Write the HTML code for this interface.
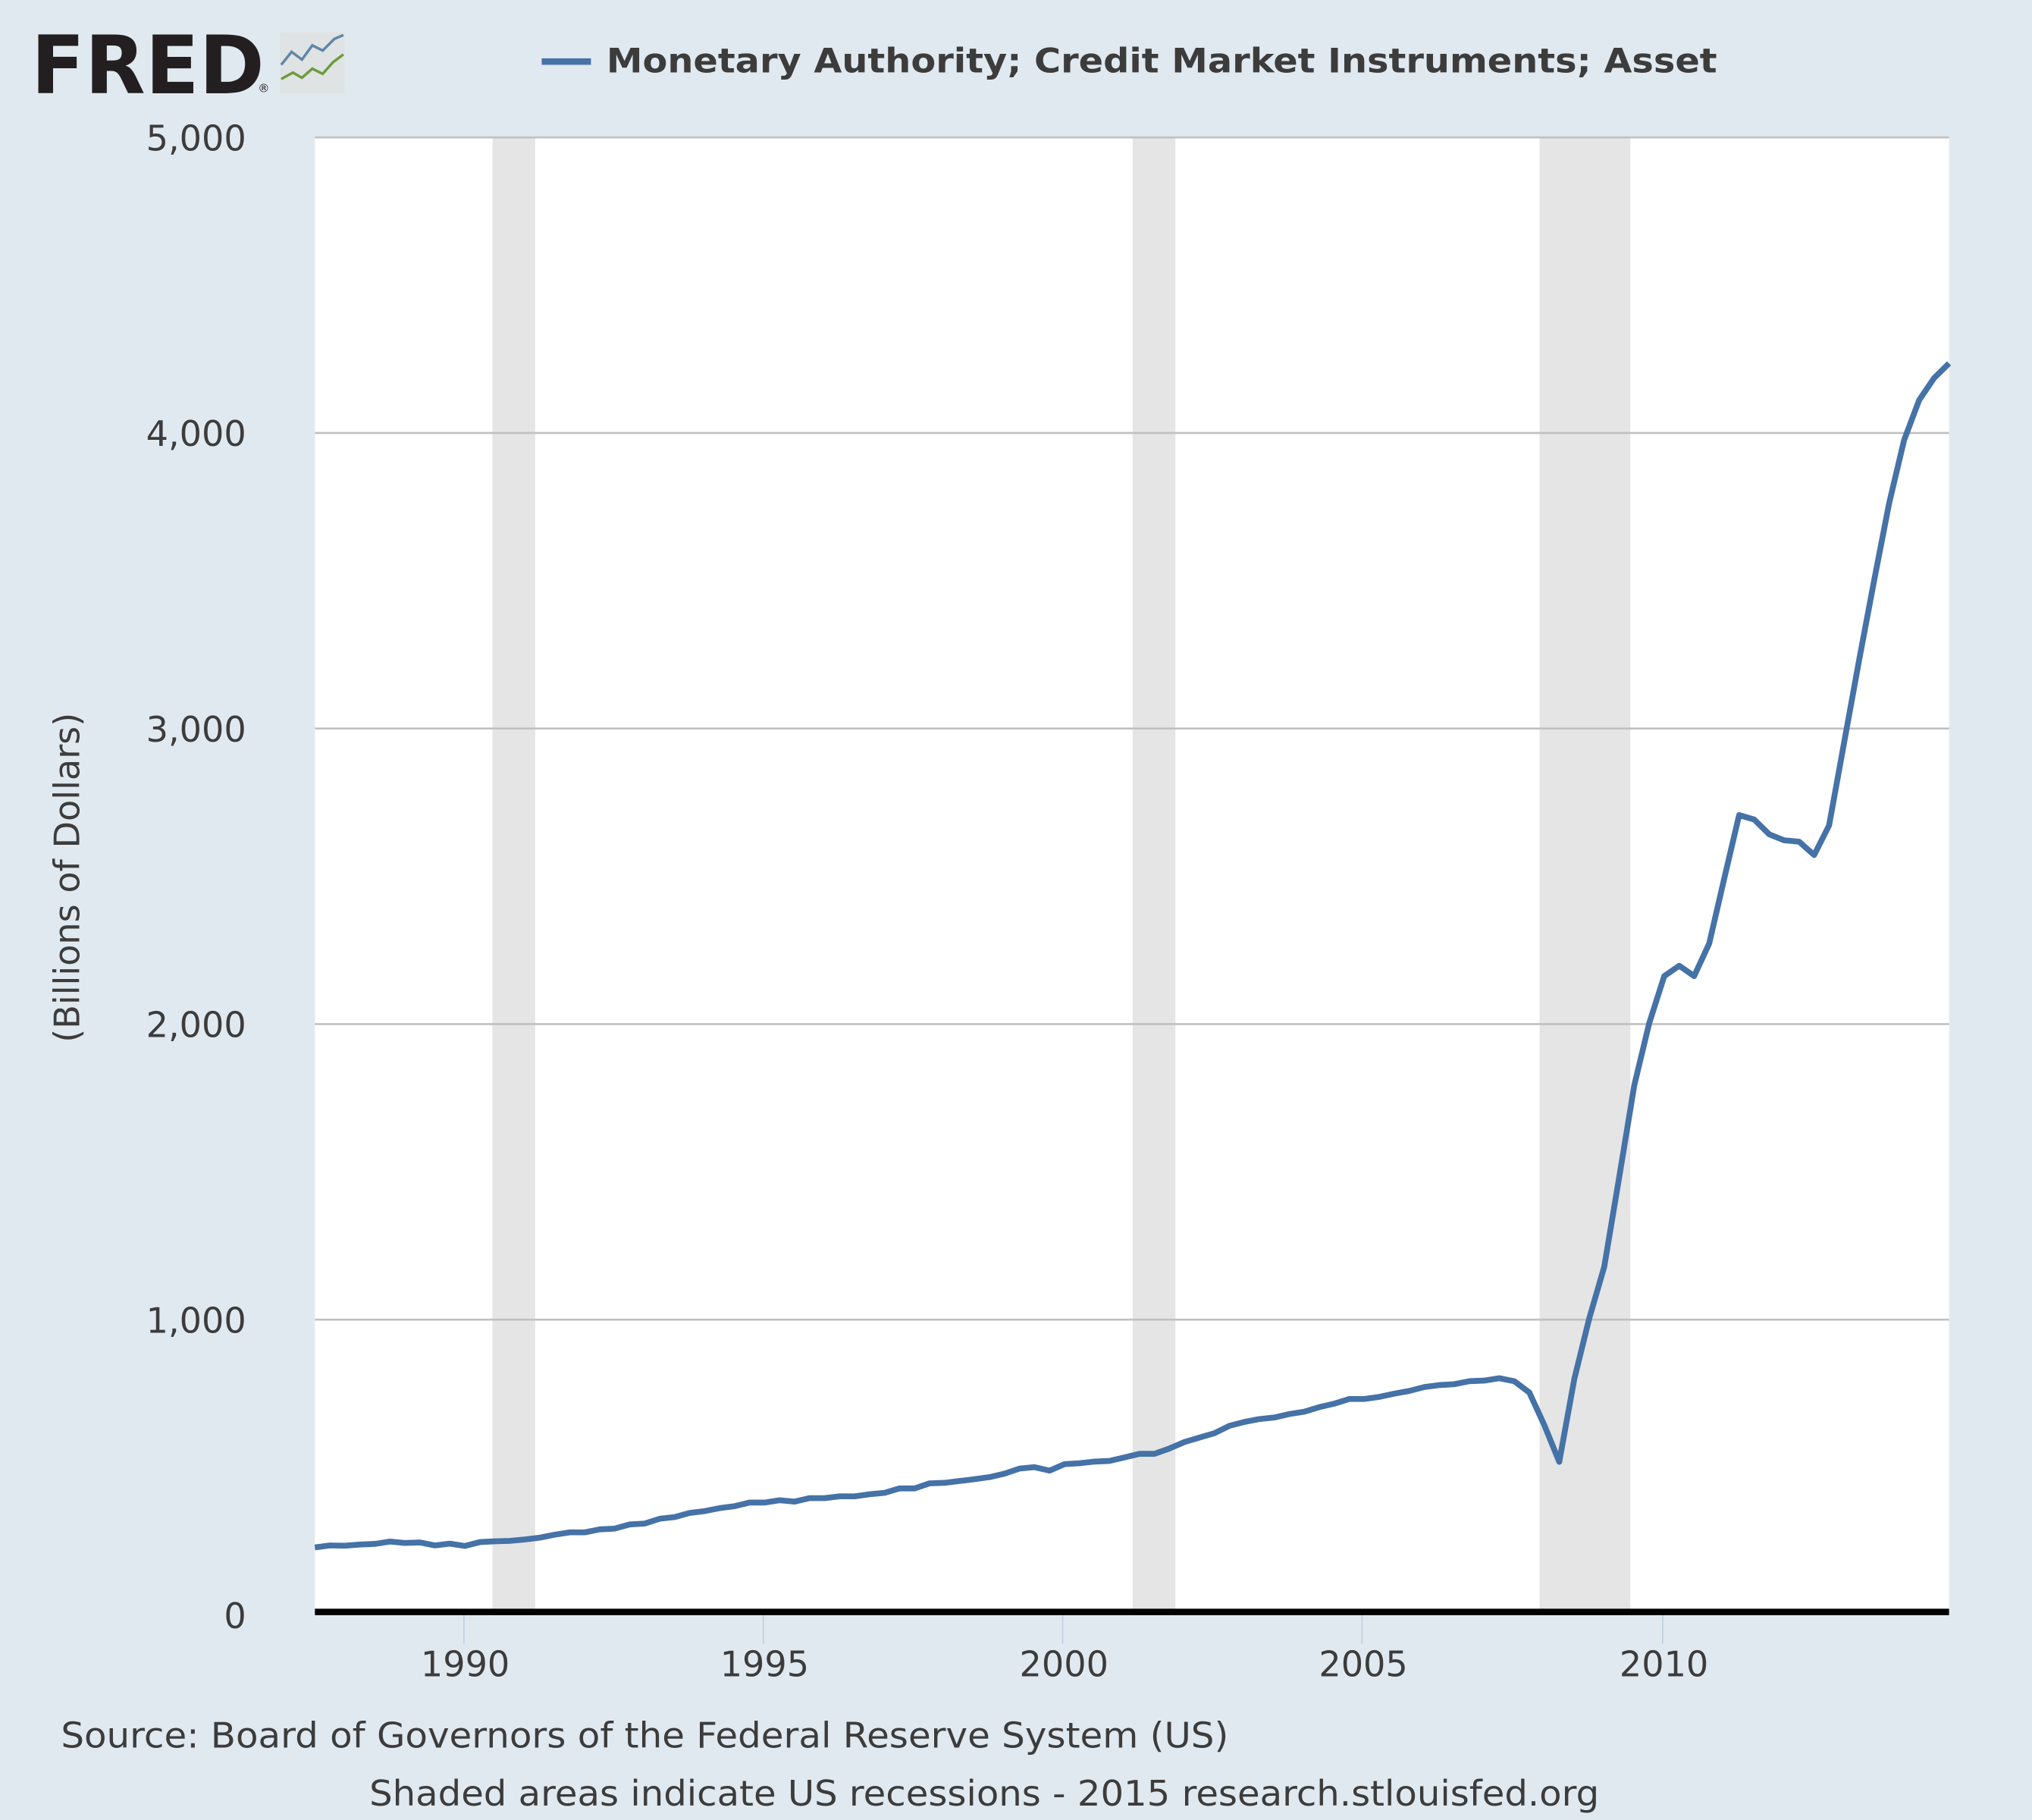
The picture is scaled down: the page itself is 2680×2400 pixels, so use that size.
<!DOCTYPE html>
<html><head><meta charset="utf-8"><style>html,body{margin:0;padding:0;background:#e1e9f0}svg{display:block}</style></head>
<body>
<svg id="s" width="2680" height="2400" viewBox="0 0 1568 1404" preserveAspectRatio="none" xmlns="http://www.w3.org/2000/svg" font-family="'DejaVu Sans','Liberation Sans',sans-serif">
<rect width="1568" height="1404" fill="#e1e9f0"/>
<text x="24" y="72" font-size="62" font-weight="bold" fill="#231f20" textLength="180" lengthAdjust="spacingAndGlyphs">FRED</text>
<text x="199" y="71" font-size="9" fill="#231f20">®</text>
<rect x="216" y="25" width="50" height="47" fill="#dfe3e3"/>
<polyline points="217,50 225,40 233,46 241,35 249,39 258,30 265,27" fill="none" stroke="#5f86a8" stroke-width="2"/>
<polyline points="217,61 226,56 233,60 241,53 249,57 257,48 265,42" fill="none" stroke="#6d9a3c" stroke-width="2"/>
<rect x="418" y="45" width="38" height="5" fill="#4572a7"/>
<text x="468" y="56" font-size="26" font-weight="bold" fill="#3c3c3c" textLength="857" lengthAdjust="spacingAndGlyphs">Monetary Authority; Credit Market Instruments; Asset</text>
<rect x="243" y="106" width="1261" height="1139" fill="#fff"/>
<rect x="380" y="106" width="33" height="1139" fill="#e5e5e5"/>
<rect x="874" y="106" width="33" height="1139" fill="#e5e5e5"/>
<rect x="1188" y="106" width="70" height="1139" fill="#e5e5e5"/>
<g stroke="#c0c0c0" stroke-width="1.5">
<line x1="243" x2="1504" y1="106" y2="106"/><line x1="243" x2="1504" y1="334" y2="334"/>
<line x1="243" x2="1504" y1="562" y2="562"/><line x1="243" x2="1504" y1="790" y2="790"/>
<line x1="243" x2="1504" y1="1018" y2="1018"/></g>
<g font-size="27" fill="#3c3c3c" text-anchor="end">
<text x="190" y="116">5,000</text><text x="190" y="344">4,000</text><text x="190" y="572">3,000</text>
<text x="190" y="800">2,000</text><text x="190" y="1028">1,000</text><text x="190" y="1256">0</text></g>
<text transform="translate(61,677) rotate(-90)" font-size="27" fill="#3c3c3c" text-anchor="middle">(Billions of Dollars)</text>
<g stroke="#c0d0e0" stroke-width="1"><line x1="358" x2="358" y1="1245" y2="1268"/><line x1="589" x2="589" y1="1245" y2="1268"/><line x1="820" x2="820" y1="1245" y2="1268"/><line x1="1051" x2="1051" y1="1245" y2="1268"/><line x1="1283" x2="1283" y1="1245" y2="1268"/></g>
<g font-size="27" fill="#3c3c3c" text-anchor="middle">
<text x="359" y="1293">1990</text><text x="590" y="1293">1995</text><text x="821" y="1293">2000</text><text x="1052" y="1293">2005</text><text x="1284" y="1293">2010</text></g>
<polyline id="ln" fill="none" stroke="#4572a7" stroke-width="4.5" stroke-linejoin="round"/>
<rect x="243" y="1241" width="1261" height="5" fill="#000"/>
<text x="47" y="1348" font-size="27" fill="#3c3c3c" textLength="901" lengthAdjust="spacingAndGlyphs">Source: Board of Governors of the Federal Reserve System (US)</text>
<text x="285" y="1393" font-size="27" fill="#3c3c3c" textLength="949" lengthAdjust="spacingAndGlyphs">Shaded areas indicate US recessions - 2015 research.stlouisfed.org</text>
</svg>
<script>
var v=[225,232,231,235,237,245,240,242,232,238,230,243,246,247,252,258,268,276,276,286,289,303,306,322,328,342,348,358,365,377,377,385,380,392,392,398,398,405,410,425,425,442,444,450,456,463,475,492,497,485,507,510,516,518,530,542,542,560,582,597,612,637,650,660,665,677,685,700,712,728,728,735,746,755,768,775,778,788,790,798,788,750,640,515,795,1000,1175,1480,1790,2000,2160,2195,2160,2270,2490,2705,2690,2640,2620,2615,2570,2670,2950,3230,3500,3760,3975,4110,4185,4235];
var p=[];for(var i=0;i<v.length;i++){var x=243+i*(1261/(v.length-1));var y=1245-v[i]*0.2278;p.push(x.toFixed(1)+","+y.toFixed(1));}
document.getElementById("ln").setAttribute("points",p.join(" "));
</script>
</body></html>
